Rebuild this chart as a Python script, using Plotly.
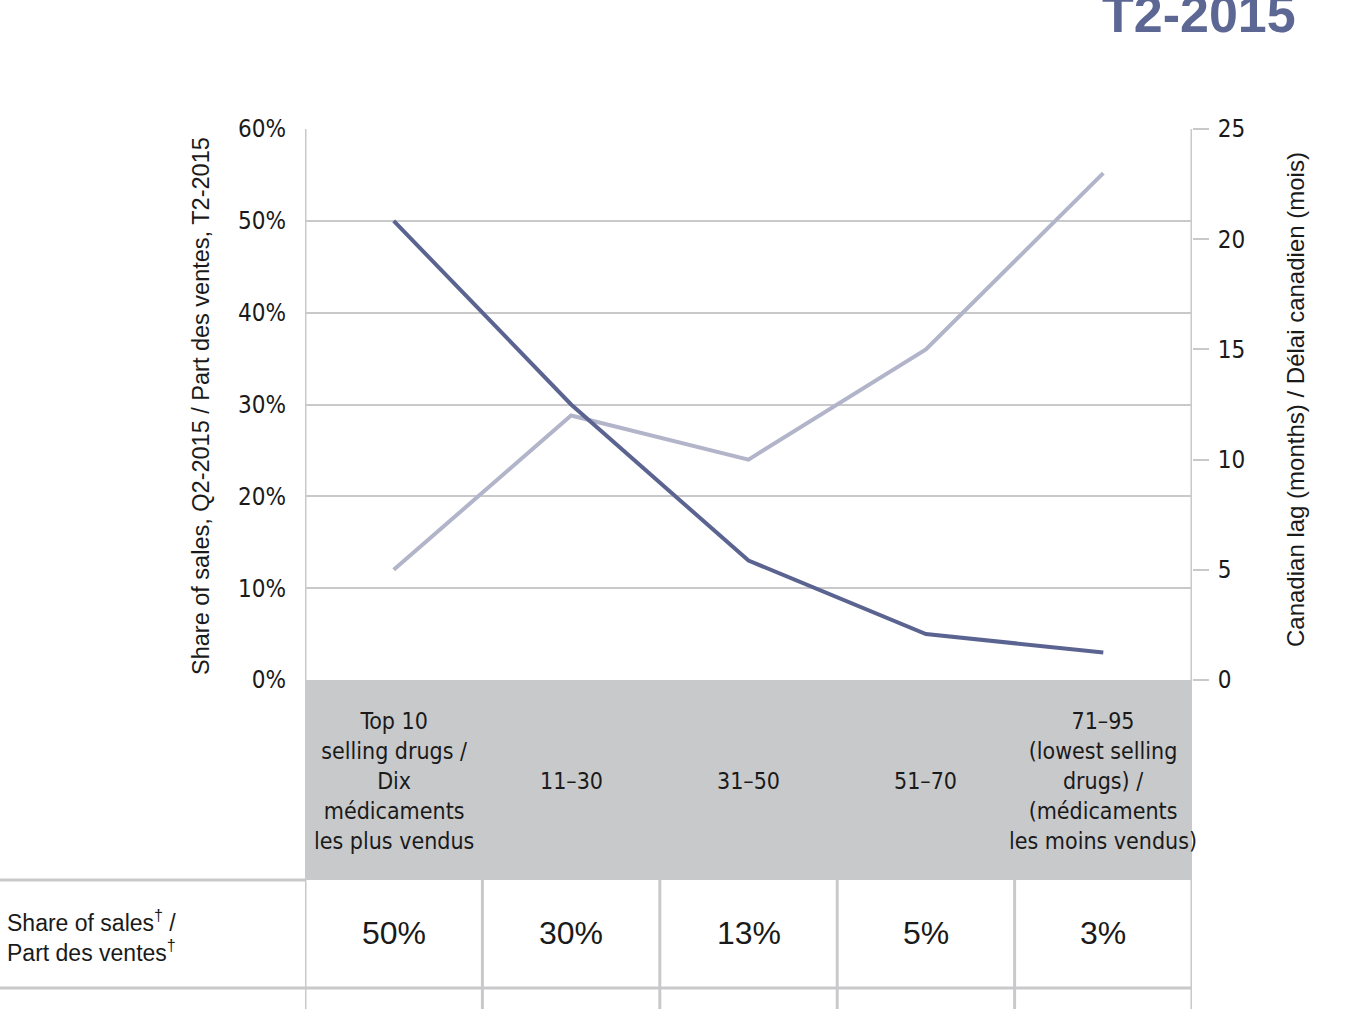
import plotly.graph_objects as go

# ---- data ----
categories = ["Top 10", "11–30", "31–50", "51–70", "71–95"]
category_labels = [
    "Top 10<br>selling drugs /<br>Dix<br>médicaments<br>les plus vendus",
    "11–30",
    "31–50",
    "51–70",
    "71–95<br>(lowest selling<br>drugs) /<br>(médicaments<br>les moins vendus)",
]
share_of_sales = [50, 30, 13, 5, 3]          # %, left axis
canadian_lag_months = [5, 12, 10, 15, 23]    # months, right axis
table_values = ["50%", "30%", "13%", "5%", "3%"]
share_ticks = [0, 10, 20, 30, 40, 50, 60]
share_tick_text = ["0%", "10%", "20%", "30%", "40%", "50%", "60%"]
lag_ticks = [0, 5, 10, 15, 20, 25]

W, H = 1348, 1009
def px_x(p):
    return p / W
def px_y(p):
    return 1 - p / H

DARK = "#5b6491"
LIGHT = "#b2b4c9"
GRID = "#c9c9cb"
BAND = "#c8c9cb"
NARROW = "DejaVu Sans Condensed, Liberation Sans Narrow, Roboto, sans-serif"
SANS = "Liberation Sans, Arial, sans-serif"
TXT = "#1a1a1a"

fig = go.Figure()

fig.add_trace(go.Scatter(
    x=categories, y=canadian_lag_months, yaxis="y", mode="lines",
    line=dict(color=LIGHT, width=4), showlegend=False, hoverinfo="skip"))
fig.add_trace(go.Scatter(
    x=categories, y=share_of_sales, yaxis="y2", mode="lines",
    line=dict(color=DARK, width=4), showlegend=False, hoverinfo="skip"))

x0, x1 = px_x(305), px_x(1192)
y_bottom, y_top = px_y(680), px_y(129)

shapes = []
shapes.append(dict(type="rect", xref="x", yref="paper", x0=-0.5, x1=4.5,
                   y0=px_y(880), y1=px_y(680), fillcolor=BAND, line=dict(width=0), layer="below"))
shapes.append(dict(type="line", xref="x", yref="paper", x0=4.5, x1=4.5,
                   y0=0, y1=px_y(129), line=dict(color=GRID, width=3)))
shapes.append(dict(type="line", xref="x", yref="paper", x0=-0.5, x1=-0.5,
                   y0=px_y(680), y1=px_y(129), line=dict(color=GRID, width=3)))
for b in [-0.5, 0.5, 1.5, 2.5, 3.5]:
    shapes.append(dict(type="line", xref="x", yref="paper", x0=b, x1=b,
                       y0=0, y1=px_y(880), line=dict(color=GRID, width=3)))
shapes.append(dict(type="line", xref="paper", yref="paper", x0=0, x1=x0,
                   y0=px_y(880), y1=px_y(880), line=dict(color=GRID, width=3)))
shapes.append(dict(type="line", xref="paper", yref="paper", x0=0, x1=x1,
                   y0=px_y(988), y1=px_y(988), line=dict(color=GRID, width=3)))

annotations = []
for c, lab in zip(categories, category_labels):
    annotations.append(dict(x=c, xref="x", y=px_y(781), yref="paper", text=lab,
                            showarrow=False, xanchor="center", yanchor="middle",
                            font=dict(family=NARROW, size=23, color=TXT),
                            align="center"))
for c, v in zip(categories, table_values):
    annotations.append(dict(x=c, xref="x", y=px_y(933), yref="paper", text=v,
                            showarrow=False, xanchor="center", yanchor="middle",
                            font=dict(family=SANS, size=32, color=TXT)))
annotations.append(dict(x=px_x(5), xref="paper", y=px_y(936), yref="paper",
                        text="Share of sales<sup>†</sup> /<br>Part des ventes<sup>†</sup>",
                        showarrow=False, xanchor="left", yanchor="middle", align="left",
                        font=dict(family=SANS, size=23, color=TXT)))
annotations.append(dict(x=px_x(201), xref="paper", y=px_y(406), yref="paper",
                        text="Share of sales, Q2-2015 / Part des ventes, T2-2015",
                        textangle=-90, showarrow=False, xanchor="center", yanchor="middle",
                        font=dict(family=SANS, size=23.5, color=TXT)))
annotations.append(dict(x=px_x(1295), xref="paper", y=px_y(400), yref="paper",
                        text="Canadian lag (months) / Délai canadien (mois)",
                        textangle=-90, showarrow=False, xanchor="center", yanchor="middle",
                        font=dict(family=SANS, size=24, color=TXT)))
annotations.append(dict(x=px_x(1298), xref="paper", y=px_y(14), yref="paper",
                        text="<b>T2-2015</b>", showarrow=False, xanchor="right", yanchor="middle",
                        font=dict(family=SANS, size=52, color="#5d6793")))

fig.update_layout(
    width=W, height=H,
    margin=dict(l=0, r=0, t=0, b=0, pad=0, autoexpand=False),
    paper_bgcolor="white", plot_bgcolor="white",
    xaxis=dict(domain=[x0, x1], type="category", range=[-0.5, 4.5], automargin=False,
               showticklabels=False, showgrid=False, zeroline=False, showline=False),
    yaxis=dict(domain=[y_bottom, y_top], side="right", range=[0, 25], automargin=False,
               tickmode="array", tickvals=lag_ticks, showgrid=False, zeroline=False, showline=False,
               ticks="outside", ticklen=16, tickwidth=2, tickcolor=GRID, ticklabelstandoff=4,
               tickfont=dict(family=NARROW, size=24, color=TXT)),
    yaxis2=dict(overlaying="y", side="left", range=[0, 60], automargin=False,
                tickmode="array", tickvals=share_ticks, ticktext=share_tick_text,
                showgrid=True, gridcolor=GRID, gridwidth=2, zeroline=False, showline=False,
                ticks="", ticklabelstandoff=18,
                tickfont=dict(family=NARROW, size=24, color=TXT)),
    shapes=shapes, annotations=annotations,
)

fig.write_html("out.html")
